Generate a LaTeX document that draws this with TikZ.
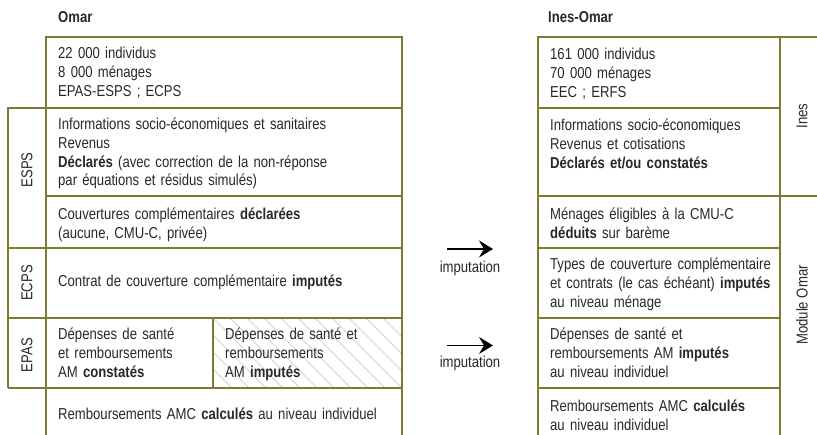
\documentclass[tikz,border=0pt]{standalone}
\usepackage{fontspec}
\setmainfont{Liberation Sans}[FakeStretch=0.83]
\usetikzlibrary{arrows.meta}
\definecolor{frame}{RGB}{128,122,48}
\definecolor{ink}{RGB}{40,40,40}
\definecolor{hatchc}{RGB}{212,212,212}
\begin{document}
\begin{tikzpicture}[x=1pt,y=-1pt,
  frm/.style={draw=frame, line width=1.3pt},
  txt/.style={anchor=base west, inner sep=0pt, align=left, text=ink, font=\fontsize{15.8}{18.6}\selectfont},
  hdr/.style={txt, font=\fontsize{15.8}{18.6}\selectfont\bfseries},
  vlab/.style={rotate=90, inner sep=0pt, text=ink, font=\fontsize{15.8}{18.6}\selectfont},
  arr/.style={-{Stealth[length=14pt,width=17pt,inset=5pt]}, line width=1.4pt, draw=black}]
\useasboundingbox (0,0) rectangle (817,435);
% hatched cell
\begin{scope}
  \clip (213,318) rectangle (402,388);
  \foreach \k in {-6,...,14} \draw[hatchc, line width=0.9pt] (213+\k*17,318) -- ++(80,80);
\end{scope}
% left frame
\draw[frm] (46,435) -- (46,37) -- (402,37) -- (402,435);
\draw[frm] (8,388) -- (8,108) -- (402,108);
\draw[frm] (46,196) -- (402,196);
\draw[frm] (8,248) -- (402,248);
\draw[frm] (8,318) -- (402,318);
\draw[frm] (8,388) -- (402,388);
\draw[frm] (213,318) -- (213,388);
% right frame
\draw[frm] (538,435) -- (538,37) -- (817,37);
\draw[frm] (780,37) -- (780,435);
\draw[frm] (538,108) -- (780,108);
\draw[frm] (538,196) -- (817,196);
\draw[frm] (538,248) -- (780,248);
\draw[frm] (538,318) -- (780,318);
\draw[frm] (538,388) -- (780,388);
% headers
\node[hdr] (hOmar) at (58,23) {Omar};
\node[hdr] (hIO) at (548,23) {Ines-Omar};
% left texts
\node[txt, text width=335pt] (l1) at (58,59) {22 000 individus\\8 000 ménages\\EPAS-ESPS ; ECPS};
\node[txt, text width=335pt] (l2) at (58,130) {Informations socio-économiques et sanitaires\\Revenus\\\textbf{Déclarés} (avec correction de la non-réponse\\par équations et résidus simulés)};
\node[txt, text width=335pt] (l3) at (58,220) {Couvertures complémentaires \textbf{déclarées}\\(aucune, CMU-C, privée)};
\node[txt, text width=335pt] (l4) at (58,287) {Contrat de couverture complémentaire \textbf{imputés}};
\node[txt, text width=150pt] (l5) at (58,340) {Dépenses de santé\\et remboursements\\AM \textbf{constatés}};
\node[txt, text width=170pt] (l6) at (225,340) {Dépenses de santé et\\remboursements\\AM \textbf{imputés}};
\node[txt, text width=335pt] (l7) at (58,420) {Remboursements AMC \textbf{calculés} au niveau individuel};
% right texts
\node[txt, text width=228pt] (r1) at (550,60) {161 000 individus\\70 000 ménages\\EEC ; ERFS};
\node[txt, text width=228pt] (r2) at (550,131) {Informations socio-économiques\\Revenus et cotisations\\\textbf{Déclarés et/ou constatés}};
\node[txt, text width=228pt] (r3) at (550,220) {Ménages éligibles à la CMU-C\\\textbf{déduits} sur barème};
\node[txt, text width=228pt] (r4) at (550,270) {Types de couverture complémentaire\\et contrats (le cas échéant) \textbf{imputés}\\au niveau ménage};
\node[txt, text width=228pt] (r5) at (550,340) {Dépenses de santé et\\remboursements AM \textbf{imputés}\\au niveau individuel};
\node[txt, text width=228pt] (r6) at (550,412) {Remboursements AMC \textbf{calculés}\\au niveau individuel};
% side labels
\node[vlab] (vESPS) at (27,170) {ESPS};
\node[vlab] (vECPS) at (27,283) {ECPS};
\node[vlab] (vEPAS) at (27,355) {EPAS};
\node[vlab] (vInes) at (802,116) {Ines};
\node[vlab] (vMod) at (802,305) {Module Omar};
% arrows
\coordinate (a1s) at (447,249);
\coordinate (a1e) at (493,249);
\coordinate (a2s) at (447,345.5);
\coordinate (a2e) at (493,345.5);
\draw[arr] (a1s) -- (a1e);
\draw[arr] (a2s) -- (a2e);
\node[text=ink, inner sep=0pt, font=\fontsize{15.8}{18.6}\selectfont] (i1) at (470,268) {imputation};
\node[text=ink, inner sep=0pt, font=\fontsize{15.8}{18.6}\selectfont] (i2) at (470,363) {imputation};
\end{tikzpicture}
\end{document}
